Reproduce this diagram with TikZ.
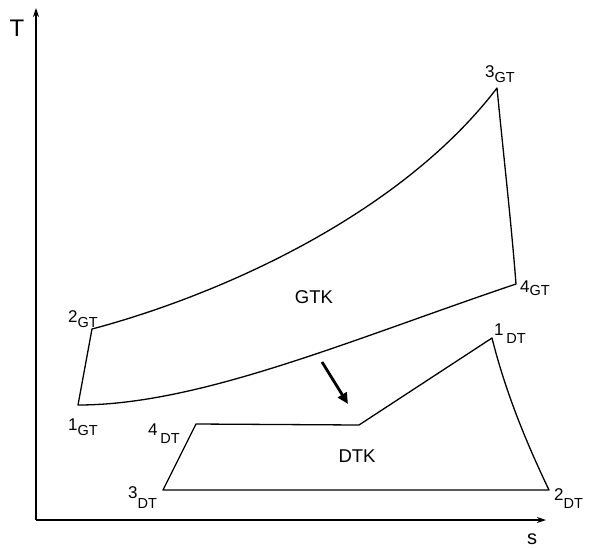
\documentclass[tikz,border=0pt]{standalone}
\usepackage{fontspec}
\setmainfont{Liberation Sans}
\usetikzlibrary{arrows.meta}
\newcommand\ptlab[3]{#1\raisebox{#3}{\fontsize{14.5}{14.5}\selectfont #2}}
\begin{document}
\begin{tikzpicture}[x=1pt,y=-1pt,
  cyc/.style={line width=1.3pt,line join=round},
  ax/.style={line width=1.1pt,-{Stealth[length=9pt,width=6pt]}},
  lbl/.style={font=\fontsize{17}{17}\selectfont,inner sep=0pt,anchor=base west}]
\useasboundingbox (0,0) rectangle (589,547);
% axes
\coordinate (O) at (36,520);
\coordinate (Ty) at (36,8);
\coordinate (Sx) at (546,520);
\draw[ax] (O) -- (Ty);
\draw[ax] (O) -- (Sx);
\node[inner sep=0pt,font=\fontsize{24}{24}\selectfont] (T) at (17,28) {T};
\node[inner sep=0pt,font=\fontsize{20}{20}\selectfont] (S) at (532,539) {s};
% GT points
\coordinate (g1) at (78,405);
\coordinate (g2) at (92,329);
\coordinate (g3) at (497,88);
\coordinate (g4) at (516,284);
\draw[cyc] (g1) -- (g2) .. controls (220,295) and (400,215) .. (g3)
  .. controls (504,160) and (511,220) .. (g4)
  .. controls (350,340) and (200,405) .. (g1) -- cycle;
% DT points
\coordinate (d1) at (492,338);
\coordinate (d2) at (549,490);
\coordinate (d3) at (163,490);
\coordinate (d4) at (196,424);
\coordinate (dk) at (359,425);
\draw[cyc] (d3) -- (d4) -- (dk) -- (d1)
  .. controls (505,390) and (525,440) .. (d2) -- cycle;
% arrow
\coordinate (a1) at (322,362);
\coordinate (a2) at (348,404);
\draw[line width=2.8pt,-{Triangle[length=11pt,width=10pt]}] (a1) -- (a2);
% labels
\node[inner sep=0pt,font=\fontsize{18.5}{18.5}\selectfont] (GTK) at (314,297) {GTK};
\node[inner sep=0pt,font=\fontsize{18.5}{18.5}\selectfont] (DTK) at (357,456) {DTK};
\node[lbl] (l2g) at (68,322) {\ptlab{2}{GT}{-0.35em}};
\node[lbl] (l1g) at (68,430) {\ptlab{1}{GT}{-0.35em}};
\node[lbl] (l3g) at (485,77) {\ptlab{3}{GT}{-0.35em}};
\node[lbl] (l4g) at (520,292) {\ptlab{4}{GT}{-0.2em}};
\node[lbl] (l1d) at (494,335) {\ptlab{1\,}{DT}{-0.5em}};
\node[lbl] (l2d) at (554,500) {\ptlab{2}{DT}{-0.5em}};
\node[lbl] (l3d) at (128,498) {\ptlab{3}{DT}{-0.6em}};
\node[lbl] (l4d) at (148,435) {\ptlab{4\,}{DT}{-0.5em}};
\end{tikzpicture}
\end{document}
